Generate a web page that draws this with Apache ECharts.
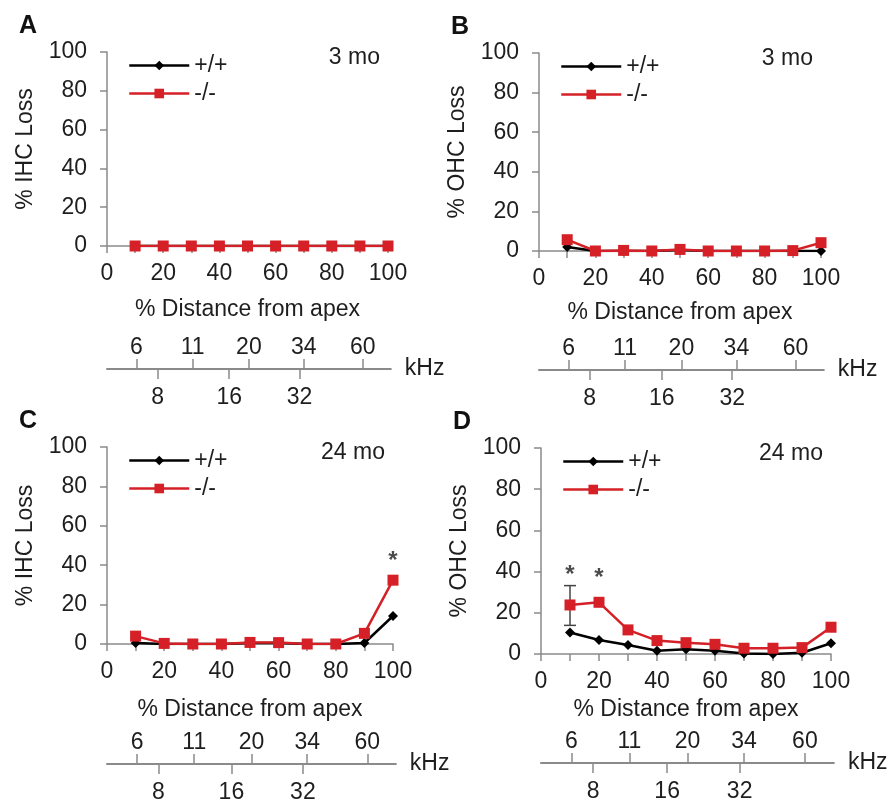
<!DOCTYPE html>
<html>
<head>
<meta charset="utf-8">
<script src="https://cdn.jsdelivr.net/npm/echarts@6/dist/echarts.min.js"></script>
<style>
  html, body { margin: 0; padding: 0; background: #fff; }
  #chart { width: 889px; height: 802px; }
</style>
</head>
<body>
<div id="chart"></div>
<script>
// % distance from apex
var distance = [10, 20, 30, 40, 50, 60, 70, 80, 90, 100];

// % hair cell loss
var ihc3mWT  = [0, 0, 0, 0, 0, 0, 0, 0, 0, 0];
var ihc3mKO  = [0, 0, 0, 0, 0, 0, 0, 0, 0, 0];
var ohc3mWT  = [2, 0, 0, 0, 0.5, 0, 0, 0, 0, 0];
var ohc3mKO  = [5.7, 0, 0.3, 0, 0.8, 0, 0, 0, 0.2, 4.2];
var ihc24mWT = [0.5, 0, 0, 0, 0.5, 0.5, 0, 0, 0.5, 14.2];
var ihc24mKO = [4, 0.3, 0, 0, 0.8, 0.7, 0, 0, 5.4, 32.4];
var ohc24mWT = [10.4, 6.8, 4.4, 1.6, 2.3, 1.6, 0.3, 0, 0.6, 5.2];
var ohc24mKO = [23.8, 25.1, 11.7, 6.5, 5.5, 4.7, 2.8, 2.8, 3.1, 13];

// error bar [x, low, high] and significance stars [x, y]
var ohc24mErr = [[10, 13.9, 33.2]];
var starsC = [[100, 42]];
var starsD = [[10, 38], [20, 36.5]];

// frequency map under each panel (position in % distance)
var khzTopPos = [10.5, 30.5, 50.5, 70, 91];
var khzTopLabels = ['6', '11', '20', '34', '60'];
var khzBottomPos = [18, 43.5, 68.5];
var khzBottomLabels = ['8', '16', '32'];

var FONT = "'Liberation Sans', Arial, sans-serif";
var TXT = '#1e1e1e';
var AXIS = '#8a8a8a';
var RED = '#d42026';

var panels = [
    {letter: 'A', age: '3 mo', yName: '% IHC Loss', wt: ihc3mWT, ko: ihc3mKO,
        left: 107, top: 52, width: 281, height: 194, khzY: 369, xGap: 52},
    {letter: 'B', age: '3 mo', yName: '% OHC Loss', wt: ohc3mWT, ko: ohc3mKO,
        left: 539, top: 53, width: 282, height: 198, khzY: 370, xGap: 50},
    {letter: 'C', age: '24 mo', yName: '% IHC Loss', wt: ihc24mWT, ko: ihc24mKO, stars: starsC,
        left: 107, top: 447, width: 286, height: 197, khzY: 764, xGap: 54},
    {letter: 'D', age: '24 mo', yName: '% OHC Loss', wt: ohc24mWT, ko: ohc24mKO, stars: starsD, err: ohc24mErr,
        left: 541, top: 448, width: 290, height: 206, khzY: 763, xGap: 44}
];

var grid = [], xAxis = [], yAxis = [], series = [], legend = [], graphic = [];

function pair(xs, ys) {
    return xs.map(function (x, i) { return [x, ys[i]]; });
}

function khzFormatter(pos, labels) {
    return function (v) {
        var i = pos.indexOf(v);
        return i < 0 ? '' : labels[i];
    };
}

panels.forEach(function (p, k) {
    var gMain = grid.length;
    grid.push({left: p.left, top: p.top, width: p.width, height: p.height});
    grid.push({left: p.left, top: p.khzY, width: p.width * 1.01, height: 0});

    var xMain = xAxis.length;
    xAxis.push({
        gridIndex: gMain, type: 'value', min: 0, max: 100, interval: 10,
        name: '% Distance from apex', nameLocation: 'middle', nameGap: p.xGap,
        nameTextStyle: {fontFamily: FONT, fontSize: 23, color: TXT},
        axisLine: {lineStyle: {color: AXIS, width: 1.5}},
        axisTick: {length: 7, lineStyle: {color: AXIS, width: 1.5}},
        axisLabel: {
            margin: 16, fontFamily: FONT, fontSize: 23, color: TXT,
            formatter: function (v) { return v % 20 === 0 ? String(v) : ''; }
        },
        splitLine: {show: false}
    });
    // kHz scale, upper ticks
    xAxis.push({
        gridIndex: gMain + 1, type: 'value', position: 'top', min: 0, max: 101,
        axisLine: {show: false},
        axisTick: {customValues: khzTopPos, length: 10, lineStyle: {color: AXIS, width: 1.5}},
        axisLabel: {
            customValues: khzTopPos, margin: 10, fontFamily: FONT, fontSize: 23, color: TXT,
            formatter: khzFormatter(khzTopPos, khzTopLabels)
        },
        splitLine: {show: false}
    });
    // kHz scale, lower ticks
    xAxis.push({
        gridIndex: gMain + 1, type: 'value', position: 'bottom', min: 0, max: 101,
        name: 'kHz', nameLocation: 'end', nameGap: 14,
        nameTextStyle: {fontFamily: FONT, fontSize: 23, color: TXT},
        axisLine: {lineStyle: {color: AXIS, width: 2}},
        axisTick: {customValues: khzBottomPos, length: 10, lineStyle: {color: AXIS, width: 1.5}},
        axisLabel: {
            customValues: khzBottomPos, margin: 17, fontFamily: FONT, fontSize: 23, color: TXT,
            formatter: khzFormatter(khzBottomPos, khzBottomLabels)
        },
        splitLine: {show: false}
    });

    var yMain = yAxis.length;
    yAxis.push({
        gridIndex: gMain, type: 'value', min: 0, max: 100, interval: 20,
        name: p.yName, nameLocation: 'middle', nameGap: 70,
        nameTextStyle: {fontFamily: FONT, fontSize: 23, color: TXT},
        axisLine: {show: true, lineStyle: {color: AXIS, width: 1.5}},
        axisTick: {show: true, length: 7, lineStyle: {color: AXIS, width: 1.5}},
        axisLabel: {margin: 20, fontFamily: FONT, fontSize: 23, color: TXT},
        splitLine: {show: false}
    });
    yAxis.push({gridIndex: gMain + 1, type: 'value', show: false});

    if (p.err) {
        series.push({
            type: 'custom', xAxisIndex: xMain, yAxisIndex: yMain, data: p.err,
            renderItem: function (params, api) {
                var lo = api.coord([api.value(0), api.value(1)]);
                var hi = api.coord([api.value(0), api.value(2)]);
                var w = 6;
                var st = {stroke: '#444', lineWidth: 1.5};
                return {type: 'group', children: [
                    {type: 'line', shape: {x1: lo[0], y1: lo[1], x2: hi[0], y2: hi[1]}, style: st},
                    {type: 'line', shape: {x1: hi[0] - w, y1: hi[1], x2: hi[0] + w, y2: hi[1]}, style: st},
                    {type: 'line', shape: {x1: lo[0] - w, y1: lo[1], x2: lo[0] + w, y2: lo[1]}, style: st}
                ]};
            }
        });
    }

    series.push({
        name: '+/+', type: 'line', xAxisIndex: xMain, yAxisIndex: yMain,
        data: pair(distance, p.wt), symbol: 'diamond', symbolSize: 10,
        lineStyle: {color: '#000', width: 2.5}, itemStyle: {color: '#000'}
    });
    series.push({
        name: '-/-', type: 'line', xAxisIndex: xMain, yAxisIndex: yMain,
        data: pair(distance, p.ko), symbol: 'rect', symbolSize: 11,
        lineStyle: {color: RED, width: 2.5}, itemStyle: {color: RED}
    });

    if (p.stars) {
        series.push({
            type: 'scatter', xAxisIndex: xMain, yAxisIndex: yMain, data: p.stars,
            symbolSize: 1, itemStyle: {color: 'rgba(0,0,0,0)'},
            label: {show: true, position: 'inside', formatter: '*', fontFamily: FONT,
                fontSize: 24, fontWeight: 'bold', color: TXT}
        });
    }

    legend.push({
        orient: 'vertical', left: p.left + 21, top: p.top + 2, padding: 0,
        itemWidth: 60, itemHeight: 12, itemGap: 5,
        lineStyle: {width: 2.5},
        data: ['+/+', '-/-'],
        textStyle: {fontFamily: FONT, fontSize: 23, color: TXT, lineHeight: 22}
    });

    graphic.push({
        type: 'text', left: p.left - 88, top: p.top - 38,
        style: {text: p.letter, font: 'bold 25px ' + FONT, fill: '#111'}
    });
    graphic.push({
        type: 'text', right: 889 - (p.left + p.width - 8), top: p.top - 6,
        style: {text: p.age, font: '23px ' + FONT, fill: TXT}
    });
});

var chart = echarts.init(document.getElementById('chart'));
chart.setOption({
    backgroundColor: '#fff',
    animation: false,
    grid: grid,
    xAxis: xAxis,
    yAxis: yAxis,
    legend: legend,
    graphic: graphic,
    series: series
});
</script>
</body>
</html>
